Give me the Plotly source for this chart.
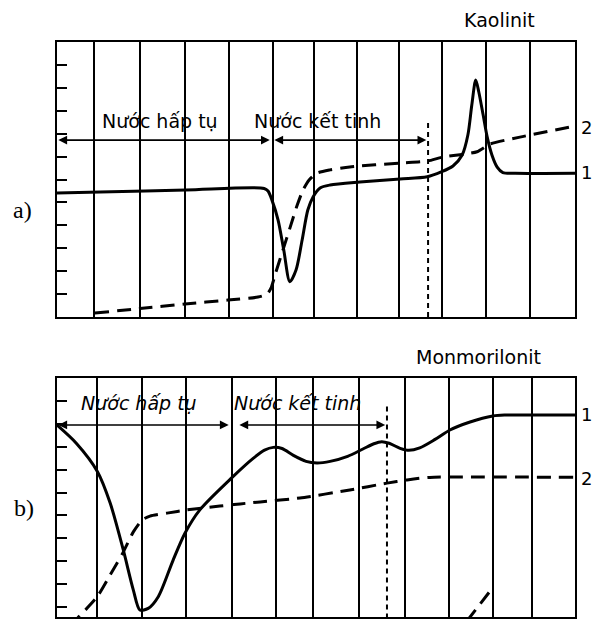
import plotly.graph_objects as go

# ---- Panel a) Kaolinit : temperature (°C) vs. signal (grid divisions) ----
kao_T1 = [15, 114, 310, 489, 498, 507, 521, 534, 548, 562, 576, 589, 601, 617, 640, 708, 800, 862,
          894, 921, 942, 955, 964, 973, 980, 990, 999, 1010, 1022, 1035, 1063, 1200]
kao_v1 = [5.41, 5.45, 5.54, 5.61, 5.50, 5.10, 4.23, 2.92, 1.54, 2.05, 3.36, 4.67, 5.24, 5.63, 5.76,
          5.89, 6.02, 6.12, 6.33, 6.59, 7.07, 7.94, 9.25, 10.34, 9.82, 8.81, 7.87, 7.07, 6.54, 6.30,
          6.27, 6.27]

kao_T2 = [102, 205, 308, 406, 475, 496, 505, 516, 532, 548, 564, 578, 592, 610, 640, 685, 800, 862,
          898, 976, 1006, 1074, 1200]
kao_v2 = [0.17, 0.37, 0.57, 0.74, 0.87, 1.00, 1.27, 1.96, 2.92, 3.88, 4.84, 5.54, 5.98, 6.28, 6.42,
          6.55, 6.72, 6.80, 6.98, 7.21, 7.55, 7.85, 8.33]

# ---- Panel b) Monmorilonit ----
mon_T1 = [15, 60, 108, 137, 167, 190, 205, 224, 247, 281, 308, 342, 416, 464, 490, 510, 530, 556,
          585, 610, 640, 680, 715, 740, 758, 775, 800, 820, 845, 880, 914, 960, 1012, 1040, 1200]
mon_v1 = [7.95, 7.14, 5.91, 4.54, 2.49, 0.74, -0.13, -0.06, 0.45, 2.05, 3.22, 4.24, 5.66, 6.49,
          6.85, 6.97, 6.92, 6.62, 6.36, 6.29, 6.36, 6.58, 6.90, 7.13, 7.22, 7.15, 6.93, 6.84, 6.95,
          7.32, 7.73, 8.08, 8.34, 8.38, 8.38]

mon_T2 = [45, 107, 137, 166, 190, 210, 228, 267, 313, 388, 480, 571, 685, 770, 816, 868, 1200,
          None, 953, 1012]
mon_v2 = [-0.83, 0.44, 1.40, 2.36, 3.28, 3.80, 3.97, 4.10, 4.24, 4.41, 4.59, 4.76, 5.11, 5.41,
          5.55, 5.66, 5.66, None, -0.61, 0.85]

# grid line temperatures
grid_a = [100, 205, 308, 409, 509, 603, 701, 798, 896, 996, 1097]
grid_b = [108, 210, 310, 416, 516, 601, 706, 811, 912, 1012, 1102]

# end of the crystal-water stage (dashed marker)
end_a = 864
end_b = 770

# stage arrows: (start, end) in °C
stages_a = [(15, 502), (509, 860)]
stages_b = [(15, 408), (429, 766)]
stage_labels = ["Nước hấp tụ", "Nước kết tinh"]

FONT = "DejaVu Sans"
BLACK = "#000000"

fig = go.Figure()

def curves(T1, v1, T2, v2, xa, ya):
    fig.add_trace(go.Scatter(x=T1, y=v1, mode="lines", xaxis=xa, yaxis=ya,
                             line=dict(color=BLACK, width=3, shape="spline", smoothing=0.8),
                             showlegend=False, hoverinfo="skip"))
    fig.add_trace(go.Scatter(x=T2, y=v2, mode="lines", xaxis=xa, yaxis=ya,
                             line=dict(color=BLACK, width=3, dash="14px,8px",
                                       shape="spline", smoothing=0.6),
                             showlegend=False, hoverinfo="skip", connectgaps=False))

curves(kao_T1, kao_v1, kao_T2, kao_v2, "x", "y")
curves(mon_T1, mon_v1, mon_T2, mon_v2, "x2", "y2")

# dashed vertical markers
fig.add_trace(go.Scatter(x=[end_a, end_a], y=[0, 8.6], mode="lines", xaxis="x", yaxis="y",
                         line=dict(color=BLACK, width=2, dash="5px,4px"),
                         showlegend=False, hoverinfo="skip"))
fig.add_trace(go.Scatter(x=[end_b, end_b], y=[-0.5, 8.8], mode="lines", xaxis="x2", yaxis="y2",
                         line=dict(color=BLACK, width=2, dash="5px,4px"),
                         showlegend=False, hoverinfo="skip"))

ann = []

def stage_arrows(stages, yv, xr, yr):
    for a, b in stages:
        ann.append(dict(x=b, y=yv, ax=a, ay=yv, xref=xr, yref=yr, axref=xr, ayref=yr,
                        text="", showarrow=True, arrowhead=2, arrowside="end+start",
                        arrowsize=1.1, arrowwidth=1.6, arrowcolor=BLACK,
                        standoff=0, startstandoff=0))

stage_arrows(stages_a, 7.72, "x", "y")
stage_arrows(stages_b, 7.95, "x2", "y2")

def label(x, y, text, xref="paper", yref="paper", size=19, family=FONT):
    ann.append(dict(x=x, y=y, xref=xref, yref=yref, text=text, showarrow=False,
                    xanchor="center", yanchor="middle",
                    font=dict(family=family, size=size, color=BLACK)))

# stage labels
for tx, lbl in zip([252, 612], stage_labels):
    label(tx, 8.55, lbl, "x", "y")
for tx, lbl in zip([202, 566], stage_labels):
    label(tx, 8.91, "<i>" + lbl + "</i>", "x2", "y2")

# mineral names (outside the plot areas, placed on the page)
label(0.843, 0.968, "Kaolinit")
label(0.809, 0.424, "Monmorilonit")

# curve numbers at the right edge
for yp, lbl in [(0.794, "2"), (0.721, "1"), (0.331, "1"), (0.229, "2")]:
    label(0.99, yp, lbl, size=18)

# panel letters
label(0.038, 0.661, "a)", size=24, family="Liberation Serif")
label(0.040, 0.181, "b)", size=24, family="Liberation Serif")

xdom = [57 / 592, 575 / 592]
common_x = dict(range=[15.4, 1200], domain=xdom, showline=True, mirror=True, linecolor=BLACK,
                linewidth=2, showgrid=True, gridcolor=BLACK, gridwidth=2, zeroline=False,
                ticks="", showticklabels=False, tickmode="array")
common_y = dict(showline=True, mirror=True, linecolor=BLACK, linewidth=2, showgrid=False,
                zeroline=False, ticks="inside", ticklen=10, tickwidth=2, tickcolor=BLACK,
                showticklabels=False, tickmode="array")

fig.update_layout(
    width=592, height=620, margin=dict(l=0, r=0, t=0, b=0),
    paper_bgcolor="white", plot_bgcolor="white",
    xaxis=dict(**common_x, tickvals=grid_a, anchor="y"),
    yaxis=dict(**common_y, range=[0, 12], domain=[1 - 317 / 620, 1 - 42 / 620],
               tickvals=list(range(1, 12)), anchor="x"),
    xaxis2=dict(**common_x, tickvals=grid_b, anchor="y2"),
    yaxis2=dict(**common_y, range=[-0.437, 10], domain=[1 - 617 / 620, 1 - 378 / 620],
                tickvals=list(range(0, 10)), anchor="x2"),
    annotations=ann,
)

fig.write_html("out.html")
